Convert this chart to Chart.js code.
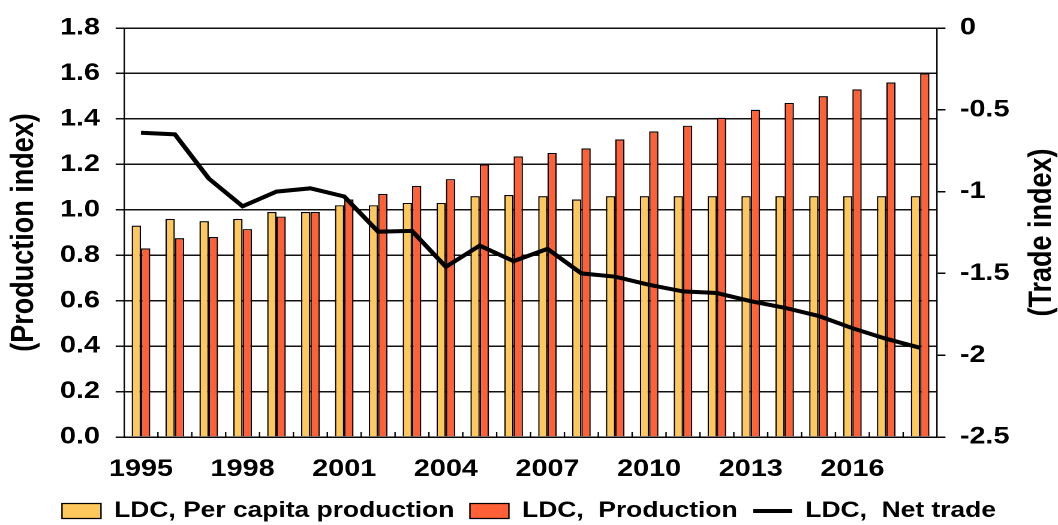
<!DOCTYPE html>
<html>
<head>
<meta charset="utf-8">
<script src="https://cdn.jsdelivr.net/npm/chart.js@4"></script>
<style>
    html, body { margin: 0; padding: 0; background: #fff; overflow: hidden; }
    /* the original picture is stretched sideways, so draw narrow and scale */
    #wrap { width: 882px; height: 525px; transform: scaleX(1.1995); transform-origin: 0 0; }
</style>
</head>
<body>
<div id="wrap"><canvas id="chart"></canvas></div>
<script>
// Data
const years = ['1995', '1996', '1997', '1998', '1999', '2000', '2001', '2002', '2003', '2004', '2005', '2006',
    '2007', '2008', '2009', '2010', '2011', '2012', '2013', '2014', '2015', '2016', '2017', '2018'];
const perCapita = [0.93, 0.96, 0.95, 0.96, 0.99, 0.99, 1.02, 1.02, 1.03, 1.03, 1.06, 1.065,
    1.06, 1.045, 1.06, 1.06, 1.06, 1.06, 1.06, 1.06, 1.06, 1.06, 1.06, 1.06];
const production = [0.83, 0.875, 0.88, 0.915, 0.97, 0.99, 1.045, 1.07, 1.105, 1.135, 1.2, 1.235,
    1.25, 1.27, 1.31, 1.345, 1.37, 1.405, 1.44, 1.47, 1.5, 1.53, 1.56, 1.6];
const netTrade = [-0.64, -0.65, -0.92, -1.09, -1.0, -0.98, -1.03, -1.245, -1.24, -1.46, -1.33, -1.425,
    -1.35, -1.5, -1.52, -1.57, -1.61, -1.62, -1.67, -1.71, -1.76, -1.835, -1.9, -1.955];
const seriesNames = ['LDC, Per capita production', 'LDC,  Production', 'LDC,  Net trade'];
const leftTitle = '(Production index)';
const rightTitle = '(Trade index)';

const FONT = 'Liberation Sans, Arial, sans-serif';

// Shrink the legend box so it sits low under the year labels
const legendFit = {
    id: 'legendFit',
    beforeLayout(chart) {
        const legend = chart.legend;
        if (!legend || legend._patched) return;
        const fit = legend.fit;
        legend.fit = function () {
            fit.call(this);
            this.height = 38;
        };
        legend._patched = true;
    }
};

// Small inward marks between the year groups, and the right axis title
const extras = {
    id: 'extras',
    afterDraw(chart) {
        const ctx = chart.ctx;
        const x = chart.scales.x;
        const area = chart.chartArea;
        ctx.save();
        ctx.strokeStyle = '#000';
        ctx.lineWidth = 1.2;
        for (let i = 1; i < years.length; i++) {
            const px = (x.getPixelForValue(i - 1) + x.getPixelForValue(i)) / 2;
            ctx.beginPath();
            ctx.moveTo(px, area.bottom);
            ctx.lineTo(px, area.bottom - 5);
            ctx.stroke();
        }
        // right title reads bottom to top like the left one
        ctx.translate(868.5, (area.top + area.bottom) / 2);
        ctx.rotate(-Math.PI / 2);
        ctx.fillStyle = '#000';
        ctx.font = 'bold 27px ' + FONT;
        ctx.textAlign = 'center';
        ctx.textBaseline = 'middle';
        ctx.fillText(rightTitle, 0, 0);
        ctx.restore();
    }
};

const ctx = document.getElementById('chart').getContext('2d');
new Chart(ctx, {
    type: 'bar',
    data: {
        labels: years,
        datasets: [{
            label: seriesNames[0],
            data: perCapita,
            backgroundColor: '#FFC85C',
            borderColor: '#000',
            borderWidth: 1.2,
            categoryPercentage: 0.55,
            barPercentage: 1.0,
            pointStyle: 'rect',
            yAxisID: 'y',
            order: 1
        }, {
            label: seriesNames[1],
            data: production,
            backgroundColor: '#FF6035',
            borderColor: '#000',
            borderWidth: 1.2,
            categoryPercentage: 0.55,
            barPercentage: 1.0,
            pointStyle: 'rect',
            yAxisID: 'y',
            order: 1
        }, {
            type: 'line',
            label: seriesNames[2],
            data: netTrade,
            borderColor: '#000',
            backgroundColor: '#000',
            borderWidth: 4,
            pointRadius: 0,
            pointStyle: 'line',
            tension: 0,
            yAxisID: 'y2',
            order: 0
        }]
    },
    options: {
        responsive: true,
        maintainAspectRatio: false,
        animation: false,
        devicePixelRatio: 2,
        layout: { padding: { top: 28, bottom: 0, left: 0, right: 0 } },
        plugins: {
            legend: {
                position: 'bottom',
                labels: {
                    usePointStyle: true,
                    pointStyleWidth: 32.5,
                    boxHeight: 15,
                    padding: 13,
                    color: '#000',
                    font: { family: FONT, size: 22, weight: 'bold' },
                    sort: (a, b) => a.datasetIndex - b.datasetIndex
                }
            },
            tooltip: { enabled: false }
        },
        scales: {
            x: {
                offset: true,
                grid: { display: false },
                border: { color: '#000', width: 1.2 },
                ticks: {
                    autoSkip: false,
                    maxRotation: 0,
                    padding: 10,
                    color: '#000',
                    font: { family: FONT, size: 24, weight: 'bold' },
                    callback: function (value, index) {
                        return index % 3 === 0 ? years[index] : '';
                    }
                },
                afterFit(scale) { scale.height = 50; }
            },
            y: {
                position: 'left',
                min: 0,
                max: 1.8,
                ticks: {
                    stepSize: 0.2,
                    padding: 13,
                    color: '#000',
                    font: { family: FONT, size: 24, weight: 'bold' },
                    callback: value => value.toFixed(1)
                },
                grid: { display: true, drawOnChartArea: true, color: '#111', lineWidth: 1.5, tickLength: 7 },
                border: { color: '#000', width: 1.2 },
                title: {
                    display: true,
                    text: leftTitle,
                    color: '#000',
                    font: { family: FONT, size: 27, weight: 'bold', lineHeight: 1.2 },
                    padding: { top: 4, bottom: 0 }
                },
                afterFit(scale) { scale.width = 103.4; }
            },
            y2: {
                position: 'right',
                min: -2.5,
                max: 0,
                ticks: {
                    stepSize: 0.5,
                    padding: 12,
                    color: '#000',
                    font: { family: FONT, size: 24, weight: 'bold' },
                    callback: value => String(value)
                },
                grid: { drawOnChartArea: false, color: '#000', lineWidth: 1.5, tickLength: 7 },
                border: { color: '#000', width: 1.2 },
                afterFit(scale) { scale.width = 100.8; }
            }
        }
    },
    plugins: [legendFit, extras]
});
</script>
</body>
</html>
